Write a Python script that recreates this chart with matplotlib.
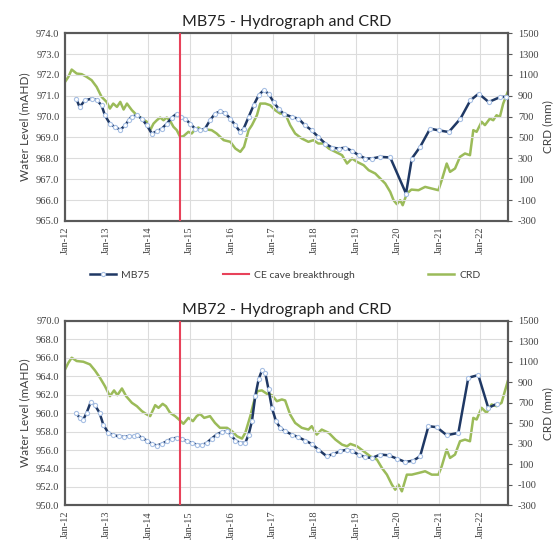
import matplotlib
matplotlib.use("Agg")
import matplotlib.pyplot as plt
from matplotlib.lines import Line2D

# ---- data (x in decimal years) ----
mb75_t = [2012.27, 2012.35, 2012.48, 2012.64, 2012.76, 2012.88, 2012.96, 2013.08, 2013.2, 2013.33,
          2013.45, 2013.53, 2013.6, 2013.73, 2013.85, 2013.97, 2014.09, 2014.21, 2014.33, 2014.45,
          2014.57, 2014.69, 2014.79, 2014.89, 2015.01, 2015.13, 2015.25, 2015.37, 2015.49, 2015.61,
          2015.73, 2015.85, 2015.98, 2016.1, 2016.22, 2016.3, 2016.42, 2016.54, 2016.66, 2016.78,
          2016.9, 2017.02, 2017.14, 2017.26, 2017.46, 2017.62, 2017.78, 2017.94, 2018.1, 2018.27,
          2018.43, 2018.59, 2018.75, 2018.91, 2019.07, 2019.23, 2019.39, 2019.59, 2019.83, 2020.21,
          2020.35, 2020.55, 2020.79, 2021.0, 2021.24, 2021.52, 2021.76, 2021.96, 2022.2, 2022.48,
          2022.62]
mb75_lvl = [970.86, 970.46, 970.78, 970.86, 970.8, 970.54, 970.06, 969.66, 969.5, 969.37,
            969.58, 969.82, 970.0, 970.06, 969.9, 969.58, 969.18, 969.3, 969.42, 969.66,
            969.95, 970.14, 970.0, 969.9, 969.66, 969.42, 969.34, 969.42, 969.82, 970.14,
            970.25, 970.17, 969.9, 969.58, 969.26, 969.42, 969.98, 970.54, 971.02, 971.26,
            971.1, 970.7, 970.38, 970.14, 969.98, 969.9, 969.58, 969.34, 969.02, 968.7,
            968.51, 968.47, 968.51, 968.35, 968.15, 967.99, 967.99, 968.07, 968.04, 966.31,
            967.99, 968.55, 969.42, 969.34, 969.26, 969.9, 970.78, 971.1, 970.7, 970.94,
            970.95]

mb72_t = [2012.27, 2012.35, 2012.44, 2012.52, 2012.62, 2012.72, 2012.83, 2012.92, 2013.04, 2013.16,
          2013.29, 2013.41, 2013.53, 2013.65, 2013.73, 2013.85, 2013.97, 2014.09, 2014.21, 2014.33,
          2014.45, 2014.57, 2014.69, 2014.81, 2014.93, 2015.05, 2015.17, 2015.29, 2015.41, 2015.53,
          2015.65, 2015.78, 2015.9, 2015.99, 2016.1, 2016.22, 2016.34, 2016.42, 2016.5, 2016.58,
          2016.66, 2016.74, 2016.82, 2016.9, 2016.98, 2017.08, 2017.18, 2017.3, 2017.46, 2017.62,
          2017.78, 2017.94, 2018.1, 2018.3, 2018.46, 2018.63, 2018.79, 2018.91, 2019.07, 2019.23,
          2019.39, 2019.59, 2019.79, 2019.99, 2020.19, 2020.39, 2020.55, 2020.75, 2020.95, 2021.19,
          2021.47, 2021.71, 2021.95, 2022.19, 2022.4]
mb72_lvl = [960.04, 959.49, 959.31, 960.04, 961.23, 960.87, 960.04, 958.77, 957.86, 957.61,
            957.5, 957.43, 957.5, 957.5, 957.68, 957.32, 957.03, 956.67, 956.49, 956.67,
            956.96, 957.25, 957.32, 957.25, 956.96, 956.78, 956.59, 956.52, 956.78, 957.25,
            957.68, 957.97, 958.04, 957.68, 957.03, 956.78, 956.78, 957.68, 959.13, 961.85,
            963.66, 964.64, 964.38, 962.57, 960.58, 959.13, 958.41, 958.04, 957.68, 957.39,
            957.03, 956.67, 956.05, 955.33, 955.58, 955.87, 956.05, 955.87, 955.51, 955.22,
            955.14, 955.51, 955.43, 955.07, 954.71, 954.86, 955.33, 958.59, 958.48, 957.61,
            957.86, 963.84, 964.13, 960.58, 961.01]

crd1_t = [2012.0, 2012.08, 2012.16, 2012.28, 2012.4, 2012.52, 2012.64, 2012.76, 2012.88, 2013.0,
          2013.08, 2013.16, 2013.25, 2013.33, 2013.41, 2013.49, 2013.61, 2013.73, 2013.85, 2013.97,
          2014.05, 2014.13, 2014.21, 2014.29, 2014.37, 2014.45, 2014.53, 2014.61, 2014.69, 2014.77,
          2014.85, 2014.97, 2015.05, 2015.13, 2015.21, 2015.29, 2015.41, 2015.53, 2015.65, 2015.82,
          2015.98, 2016.1, 2016.22, 2016.31, 2016.42, 2016.5, 2016.62, 2016.7, 2016.82, 2016.94,
          2017.06, 2017.18, 2017.3, 2017.42, 2017.54, 2017.7, 2017.86, 2017.98, 2018.1, 2018.22,
          2018.35, 2018.51, 2018.67, 2018.79, 2018.91, 2019.03, 2019.19, 2019.31, 2019.47, 2019.59,
          2019.71, 2019.83, 2019.91, 2019.99, 2020.07, 2020.13, 2020.23, 2020.34, 2020.51, 2020.67,
          2020.83, 2020.99, 2021.07, 2021.19, 2021.27, 2021.39, 2021.51, 2021.63, 2021.75, 2021.83,
          2021.91, 2022.03, 2022.11, 2022.23, 2022.31, 2022.39, 2022.47, 2022.55, 2022.66]
crd1_mm = [1033, 1081, 1151, 1113, 1107, 1081, 1049, 985, 889, 841,
           777, 825, 793, 841, 768, 825, 761, 713, 681, 650,
           570, 633, 665, 691, 665, 691, 659, 602, 570, 506,
           512, 554, 538, 576, 595, 570, 576, 570, 538, 474,
           458, 394, 362, 410, 570, 618, 713, 825, 825, 809,
           761, 729, 729, 618, 538, 490, 458, 474, 442, 442,
           394, 362, 330, 250, 298, 266, 234, 186, 154, 106,
           58, -22, -102, -140, -102, -150, -38, 0, -6, 26,
           10, -6, 90, 250, 170, 202, 314, 346, 330, 570,
           554, 650, 618, 681, 665, 713, 697, 825, 937]

crd2_t = [2012.0, 2012.08, 2012.16, 2012.28, 2012.44, 2012.6, 2012.72, 2012.84, 2012.96, 2013.08,
          2013.18, 2013.26, 2013.37, 2013.47, 2013.61, 2013.73, 2013.85, 2013.97, 2014.05, 2014.17,
          2014.25, 2014.35, 2014.43, 2014.53, 2014.65, 2014.77, 2014.85, 2014.97, 2015.08, 2015.17,
          2015.25, 2015.35, 2015.49, 2015.61, 2015.73, 2015.9, 2016.02, 2016.14, 2016.26, 2016.34,
          2016.46, 2016.54, 2016.63, 2016.74, 2016.86, 2016.98, 2017.1, 2017.22, 2017.3, 2017.42,
          2017.54, 2017.7, 2017.86, 2017.94, 2018.06, 2018.18, 2018.35, 2018.51, 2018.67, 2018.79,
          2018.87, 2019.03, 2019.19, 2019.35, 2019.51, 2019.63, 2019.75, 2019.87, 2019.95, 2020.03,
          2020.11, 2020.23, 2020.35, 2020.51, 2020.67, 2020.83, 2020.99, 2021.07, 2021.19, 2021.27,
          2021.39, 2021.51, 2021.63, 2021.75, 2021.83, 2021.91, 2022.03, 2022.15, 2022.27, 2022.39,
          2022.51, 2022.66]
crd2_mm = [1027, 1092, 1141, 1109, 1102, 1076, 1017, 946, 864, 766,
           822, 776, 841, 766, 701, 668, 620, 587, 571, 678,
           652, 691, 668, 603, 571, 528, 496, 554, 522, 571,
           593, 554, 571, 505, 457, 457, 424, 375, 352, 408,
           571, 701, 815, 822, 789, 776, 717, 734, 724, 587,
           505, 457, 440, 473, 391, 440, 408, 342, 293, 277,
           300, 277, 228, 179, 147, 65, 0, -98, -147, -98,
           -163, 0, 0, 16, 33, 0, 0, 82, 245, 163,
           196, 326, 342, 326, 554, 538, 652, 603, 685, 668,
           701, 913]

breakthrough = 2014.77
years = list(range(2012, 2023))
year_labels = ["Jan-%02d" % (y % 100) for y in years]

navy = "#1F3864"
mk_edge = "#A8C0E4"
green = "#9BBB59"
red = "#E8425A"
txt = "#404040"
serif = ["Liberation Serif", "DejaVu Serif"]
sans = ["Lato", "DejaVu Sans"]

fig = plt.figure(figsize=(5.56, 5.44), dpi=100)


def panel(rect, title, t, lvl, ct, cmm, ylim, ystep):
    ax = fig.add_axes(rect)
    ax2 = ax.twinx()
    ax.set_zorder(ax2.get_zorder() + 1)
    ax.patch.set_visible(False)
    ax.plot(t, lvl, color=navy, lw=1.8, marker="o", ms=3.0, mfc="white",
            mec=mk_edge, mew=0.8, zorder=3)
    ax.axvline(breakthrough, color=red, lw=1.5, zorder=4)
    ax2.plot(ct, cmm, color=green, lw=1.8)

    ax.set_xlim(2012.0, 2022.67)
    ax.set_ylim(*ylim)
    yt = [ylim[0] + i * ystep for i in range(int(round((ylim[1] - ylim[0]) / ystep)) + 1)]
    ax.set_yticks(yt)
    ax.set_yticklabels(["%.1f" % v for v in yt], family=serif, fontsize=7.5, color=txt)
    ax.set_xticks(years)
    ax.set_xticklabels(year_labels, rotation=90, family=serif, fontsize=7.5, color=txt)
    ax.tick_params(axis="both", length=0, pad=4)
    ax.grid(True, color="#DCDCDC", lw=0.8)
    ax.set_axisbelow(True)

    ax2.set_ylim(-300, 1500)
    ct_ticks = list(range(-300, 1501, 200))
    ax2.set_yticks(ct_ticks)
    ax2.set_yticklabels([str(v) for v in ct_ticks], family=serif, fontsize=7.5, color=txt)
    ax2.tick_params(axis="y", length=3, color="#595959", pad=4)

    for a in (ax, ax2):
        for s in a.spines.values():
            s.set_color("#595959")
            s.set_linewidth(1.5)

    ax.set_ylabel("Water Level (mAHD)", family=sans, fontsize=8.5, color=txt, labelpad=4)
    ax2.set_ylabel("CRD (mm)", family=sans, fontsize=8.5, color=txt, labelpad=3)
    ax.set_title(title, family=sans, fontsize=11.5, color="#222222", pad=5)
    return ax


ax_top = panel([0.117, 0.594, 0.797, 0.345], "MB75 - Hydrograph and CRD",
               mb75_t, mb75_lvl, crd1_t, crd1_mm, (965.0, 974.0), 1.0)
ax_bot = panel([0.117, 0.071, 0.797, 0.339], "MB72 - Hydrograph and CRD",
               mb72_t, mb72_lvl, crd2_t, crd2_mm, (950.0, 970.0), 2.0)

handles = [
    Line2D([], [], color=navy, lw=1.8, marker="o", ms=3.0, mfc="white", mec=mk_edge, mew=0.8),
    Line2D([], [], color=red, lw=1.5),
    Line2D([], [], color=green, lw=1.8),
]
fig.legend(handles, ["MB75", "CE cave breakthrough", "CRD"], loc="center",
           bbox_to_anchor=(0.513, 0.494), ncol=3, frameon=False, columnspacing=7.0,
           handlelength=2.5, handletextpad=0.5, prop={"family": sans, "size": 7.5},
           labelcolor=txt)

fig.savefig("out.png", dpi=100)
